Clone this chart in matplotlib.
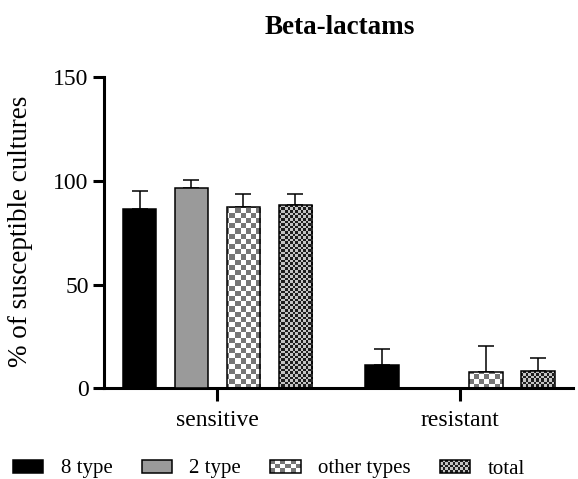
import numpy as np
import matplotlib
matplotlib.use("Agg")
import matplotlib.pyplot as plt
from matplotlib.patches import Patch, Rectangle
from matplotlib.legend_handler import HandlerBase

plt.rcParams['font.family'] = ['Liberation Serif', 'DejaVu Serif']

# ---- datos ----
categorias = ['sensitive', 'resistant']
series = ['8 type', '2 type', 'other types', 'total']
valores = {
    '8 type':      [86.4, 11.2],
    '2 type':      [96.4, 0.0],
    'other types': [87.2, 7.7],
    'total':       [88.5, 8.2],
}
errores = {
    '8 type':      [8.8, 7.9],
    '2 type':      [3.8, 0.0],
    'other types': [6.4, 12.6],
    'total':       [5.3, 6.4],
}

# estilos: (color solido) o (patron de tablero: color oscuro, color claro, tamano celda px)
estilos = {
    '8 type':      ('solid', 'black'),
    '2 type':      ('solid', '#9a9a9a'),
    'other types': ('checker', ('#767676', '#ffffff', 5.2)),
    'total':       ('checker', ('#1e1e1e', '#c4c4c4', 2.6)),
}

W, H = 578, 479
fig = plt.figure(figsize=(W / 100, H / 100), dpi=100)
ax = fig.add_axes([104 / W, 1 - 388.3 / H, 469 / W, 311.3 / H])


def tablero(oscuro, claro, celda, ancho, alto):
    yy, xx = np.mgrid[0:alto, 0:ancho]
    m = ((xx // celda).astype(int) + (yy // celda).astype(int)) % 2
    c1 = np.array(matplotlib.colors.to_rgb(oscuro))
    c2 = np.array(matplotlib.colors.to_rgb(claro))
    return np.where(m[..., None] == 0, c1, c2)


x = np.arange(len(categorias))
paso = 0.2144
ancho = 0.14
ax_px_w, ax_px_h = 469, 311

for i, s in enumerate(series):
    pos = x + (i - 1.5) * paso
    tipo, info = estilos[s]
    color = info if tipo == 'solid' else 'none'
    barras = ax.bar(pos, valores[s], width=ancho, color=color,
                    edgecolor='black', linewidth=1.1, zorder=3)
    ax.errorbar(pos, valores[s], yerr=[np.zeros(len(categorias)), errores[s]],
                fmt='none', ecolor='black', elinewidth=1.1, capsize=6,
                capthick=1.1, zorder=2)
    if tipo == 'checker':
        img = tablero(info[0], info[1], info[2], ax_px_w, ax_px_h)
        for b in barras:
            im = ax.imshow(img, extent=[0, 1, 0, 1], transform=ax.transAxes,
                           interpolation='nearest', aspect='auto', zorder=2.5)
            im.set_clip_path(b)

ax.set_xlim(-0.468, 1.466)
ax.set_ylim(0, 150)
ax.set_yticks([0, 50, 100, 150])
ax.set_xticks(x)
ax.set_xticklabels(categorias)

for lado in ['top', 'right']:
    ax.spines[lado].set_visible(False)
for lado in ['left', 'bottom']:
    ax.spines[lado].set_linewidth(2.2)

ax.tick_params(axis='y', length=8, width=2.2, labelsize=17, pad=3)
ax.tick_params(axis='x', length=9.5, width=2.2, labelsize=17, pad=6)
ax.set_ylabel('% of susceptible cultures', fontsize=19.5)
ax.yaxis.set_label_coords(-0.151, 0.505)

fig.text(340 / W, 1 - 27 / H, 'Beta-lactams', ha='center', va='center',
         fontsize=19.5, fontweight='bold')


# ---- leyenda con patron de tablero ----
class Tablero:
    def __init__(self, oscuro, claro, nx):
        self.oscuro, self.claro, self.nx = oscuro, claro, nx


class HandlerTablero(HandlerBase):
    def create_artists(self, legend, h, xd, yd, width, height, fontsize, trans):
        artistas = [Rectangle((-xd, -yd), width, height, facecolor=h.claro,
                              edgecolor='none', transform=trans)]
        ny = max(1, int(round(h.nx * height / width)))
        cw, ch = width / h.nx, height / ny
        for i in range(h.nx):
            for j in range(ny):
                if (i + j) % 2 == 0:
                    artistas.append(Rectangle((-xd + i * cw, -yd + j * ch), cw, ch,
                                              facecolor=h.oscuro, edgecolor='none',
                                              transform=trans))
        artistas.append(Rectangle((-xd, -yd), width, height, facecolor='none',
                                  edgecolor='black', linewidth=1.1, transform=trans))
        return artistas


manijas = [
    Patch(facecolor='black', edgecolor='black', linewidth=1.1),
    Patch(facecolor='#9a9a9a', edgecolor='black', linewidth=1.1),
    Tablero('#767676', '#ffffff', 6),
    Tablero('#1e1e1e', '#c4c4c4', 12),
]
fig.legend(manijas, series, loc='center', bbox_to_anchor=(269 / W, 1 - 469 / H),
           ncol=4, frameon=False, fontsize=15, handlelength=1.45,
           handleheight=0.6, handletextpad=0.85, columnspacing=1.4,
           handler_map={Tablero: HandlerTablero()})

fig.savefig('out.png', dpi=100)
